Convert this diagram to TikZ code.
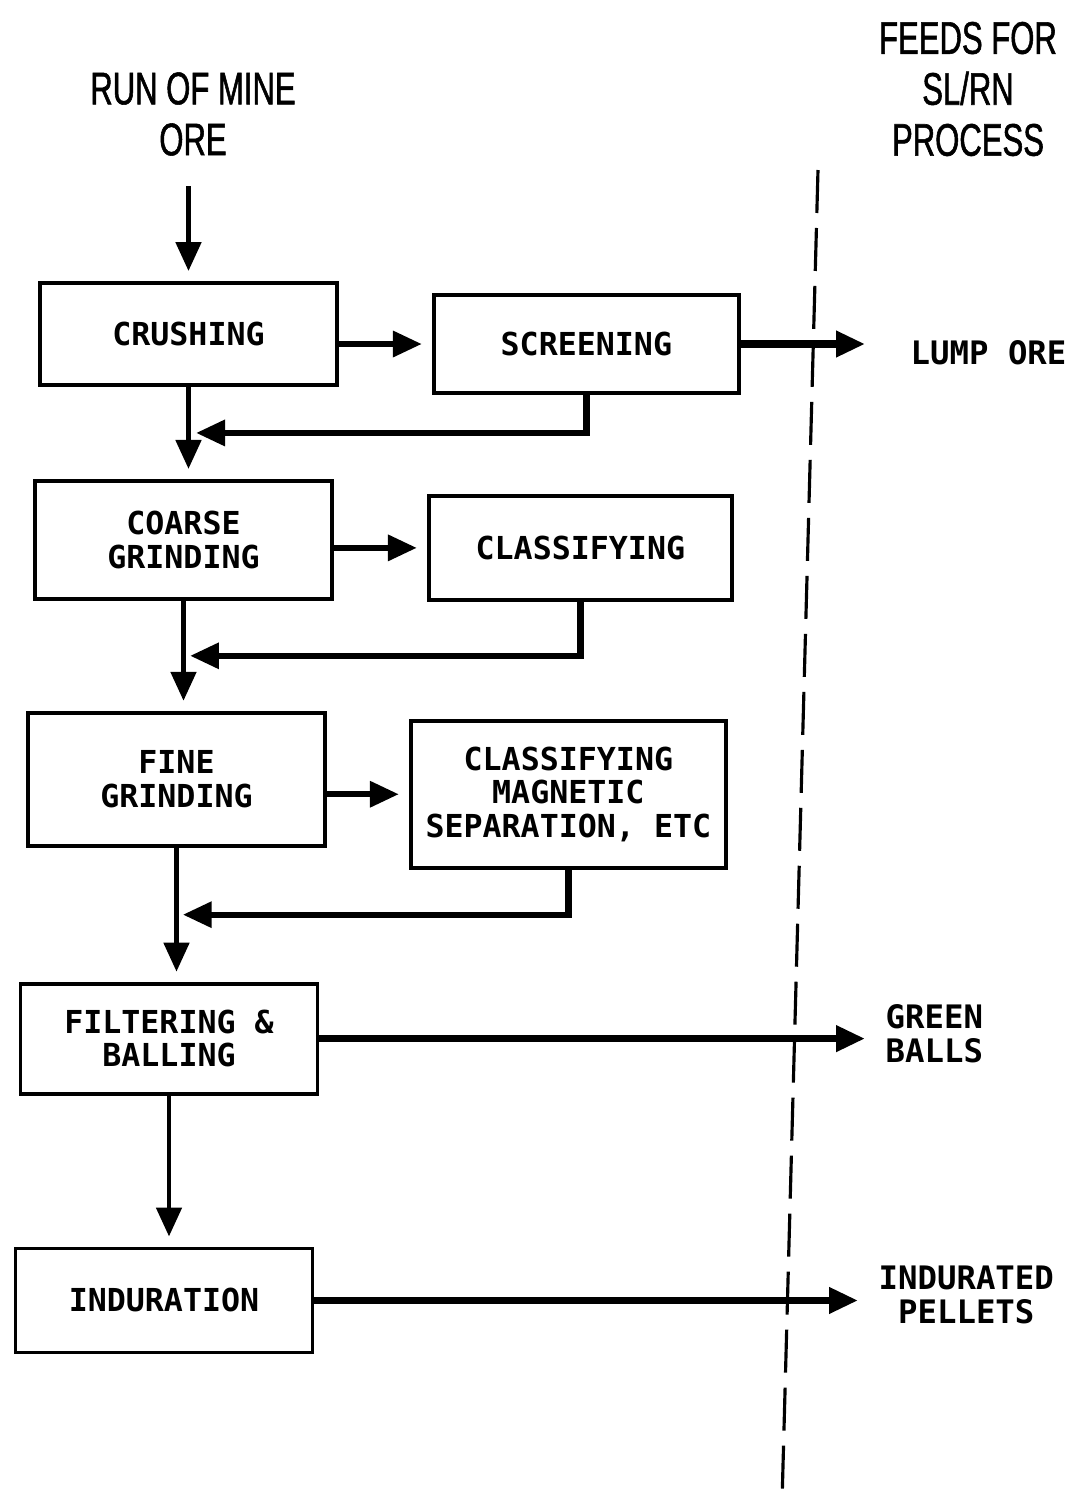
\documentclass[tikz,border=0pt]{standalone}
\usepackage{fontspec}
\newfontfamily\boxfont{DejaVu Sans Mono}
\newfontfamily\headfont[FakeStretch=0.68, FakeBold=1.2]{Liberation Sans}
\usetikzlibrary{arrows.meta, positioning, calc}

\begin{document}
\begin{tikzpicture}[
	stage/.style={rectangle, draw, line width=1.1pt, minimum width=2.97cm, align=center, inner sep=2pt, font=\boxfont\bfseries\fontsize{9}{9.5}\selectfont},
	heading/.style={align=center, inner sep=1mm, font=\headfont\fontsize{13}{14.5}\selectfont},
	outlabel/.style={align=center, inner sep=1mm, font=\boxfont\bfseries\fontsize{9.2}{9.6}\selectfont},
	arrow/.style={-{Triangle[length=2.9mm, width=2.5mm]}, line width=1.4pt, shorten >=1mm},
	sidearrow/.style={arrow, line width=1.8pt},
	outarrow/.style={arrow, line width=2pt},
	divider/.style={line width=0.9pt, dash pattern=on 4.3mm off 1.5mm}
]
	\useasboundingbox (0,0) rectangle (10.72,-15.03);

	% Main line
	\node[stage, minimum height=1.02cm] (crush) at (1.885,-3.34) {CRUSHING};
	\node[stage, minimum height=1.18cm, below=0.92cm of crush, xshift=-0.05cm] (coarse) {COARSE\\GRINDING};
	\node[stage, minimum height=1.33cm, below=1.1cm of coarse, xshift=-0.07cm] (fine) {FINE\\GRINDING};
	\node[stage, minimum height=1.10cm, below=1.34cm of fine, xshift=-0.075cm] (filter) {FILTERING \&\\BALLING};
	\node[stage, minimum height=1.04cm, below=1.51cm of filter, xshift=-0.05cm] (indur) {INDURATION};

	% Side steps
	\node[stage, minimum width=3.05cm, minimum height=0.98cm, right=0.93cm of crush, yshift=-0.1cm] (screen) {SCREENING};
	\node[stage, minimum width=3.03cm, minimum height=1.04cm, right=0.93cm of coarse, yshift=-0.08cm] (classify) {CLASSIFYING};
	\node[stage, minimum width=3.15cm, minimum height=1.47cm, right=0.82cm of fine, yshift=-0.15cm] (classmag) {CLASSIFYING\\MAGNETIC\\SEPARATION, ETC};

	% Headings and products
	\node[heading] (run) at (1.93,-1.14) {RUN OF MINE\\ORE};
	\node[heading] (feeds) at (9.68,-0.89) {FEEDS FOR\\SL/RN\\PROCESS};
	\node[outlabel, anchor=west] (lump) at (9.0,-3.53) {LUMP ORE};
	\node[outlabel, anchor=west] (green) at (8.75,-10.34) {GREEN\\BALLS};
	\node[outlabel, anchor=west] (pellets) at (8.68,-12.95) {INDURATED\\PELLETS};

	% Dividing line
	\coordinate (divtop) at (8.18,-1.70);
	\coordinate (divbot) at (7.82,-15.03);
	\draw[divider] (divtop) -- (divbot);

	% Arrows down the line
	\draw[arrow, shorten <=2mm] (run.south -| crush.north) -- (crush.north);
	\draw[arrow] (crush.south) -- (crush.south |- coarse.north);
	\draw[arrow] (coarse.south) -- (coarse.south |- fine.north);
	\draw[arrow] (fine.south) -- (fine.south |- filter.north);
	\draw[arrow] (filter.south) -- (filter.south |- indur.north);

	% Arrows to side steps
	\draw[sidearrow] (crush.east |- screen.west) -- (screen.west);
	\draw[sidearrow] (coarse.east |- classify.west) -- (classify.west);
	\draw[sidearrow] (fine.east |- classmag.west) -- (classmag.west);

	% Returns
	\draw[sidearrow] (screen.south) |- ($(crush.south)!0.5!(coarse.north)$);
	\draw[sidearrow] (classify.south) |- ($(coarse.south)!0.5!(fine.north)$);
	\draw[sidearrow] (classmag.south) |- ($(fine.south)!0.5!(filter.north)$);

	% Products
	\draw[outarrow, shorten >=3.5mm] (screen.east) -- (screen.east -| lump.west);
	\draw[outarrow] (filter.east) -- (filter.east -| green.west);
	\draw[outarrow] (indur.east) -- (indur.east -| pellets.west);
\end{tikzpicture}
\end{document}
